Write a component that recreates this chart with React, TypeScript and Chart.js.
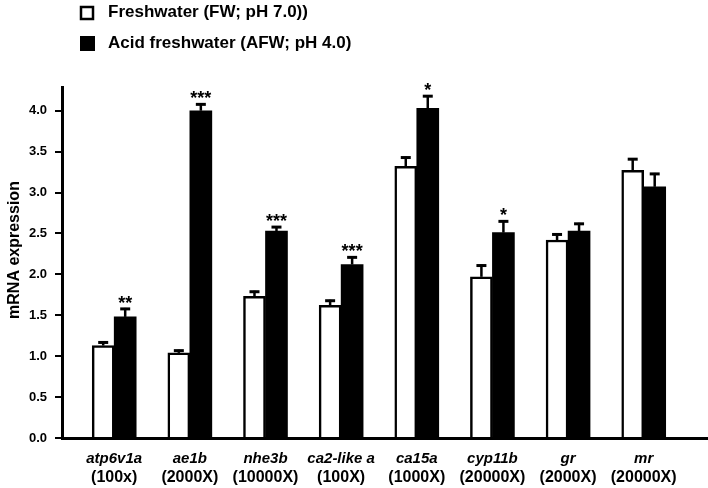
import React, { useEffect, useRef } from "react";
import { Chart, registerables } from "chart.js";

Chart.register(...registerables);

const categories = ["atp6v1a", "ae1b", "nhe3b", "ca2-like a", "ca15a", "cyp11b", "gr", "mr"];
const multipliers = ["(100x)", "(2000X)", "(10000X)", "(100X)", "(1000X)", "(20000X)", "(2000X)", "(20000X)"];
const seriesLabels = ["Freshwater (FW; pH 7.0))", "Acid freshwater (AFW; pH 4.0)"];
const fwValues = [1.13, 1.04, 1.73, 1.62, 3.32, 1.97, 2.42, 3.27];
const fwErrors = [0.05, 0.04, 0.07, 0.07, 0.12, 0.15, 0.08, 0.15];
const afwValues = [1.48, 4.0, 2.53, 2.12, 4.03, 2.51, 2.53, 3.07];
const afwErrors = [0.11, 0.09, 0.06, 0.1, 0.16, 0.15, 0.1, 0.17];
const significance = ["**", "***", "***", "***", "*", "*", "", ""];
const yTickValues = [0, 0.5, 1.0, 1.5, 2.0, 2.5, 3.0, 3.5, 4.0];
const yTitle = "mRNA expression";

const FONT = "'Liberation Sans', Arial, sans-serif";

const errorPlugin = {
  id: "errorAndLabels",
  afterDatasetsDraw(chart: any) {
    const ctx = chart.ctx;
    const yScale = chart.scales.y;
    const errs = [fwErrors, afwErrors];
    ctx.save();
    ctx.strokeStyle = "#000";
    ctx.fillStyle = "#000";
    chart.data.datasets.forEach((ds: any, di: number) => {
      const meta = chart.getDatasetMeta(di);
      meta.data.forEach((bar: any, i: number) => {
        const v = ds.data[i].y;
        const top = yScale.getPixelForValue(v + errs[di][i]);
        const base = yScale.getPixelForValue(v);
        const x = bar.x;
        ctx.lineWidth = 2.5;
        ctx.beginPath();
        ctx.moveTo(x, base);
        ctx.lineTo(x, top);
        ctx.stroke();
        ctx.lineWidth = 3;
        ctx.beginPath();
        ctx.moveTo(x - 5, top + 1);
        ctx.lineTo(x + 5, top + 1);
        ctx.stroke();
        if (di === 1 && significance[i]) {
          ctx.font = `bold 18px ${FONT}`;
          ctx.textAlign = "center";
          ctx.textBaseline = "alphabetic";
          ctx.fillText(significance[i], x, top + 1);
        }
      });
    });
    ctx.restore();
  },
  afterDraw(chart: any) {
    const ctx = chart.ctx;
    const xScale = chart.scales.x;
    const area = chart.chartArea;
    ctx.save();
    ctx.fillStyle = "#000";
    ctx.textAlign = "center";
    ctx.textBaseline = "middle";
    categories.forEach((c, i) => {
      const x = xScale.getPixelForValue(i);
      ctx.font = `italic bold 15px ${FONT}`;
      ctx.fillText(c, x, area.bottom + 21);
      ctx.font = `bold 16px ${FONT}`;
      ctx.fillText(multipliers[i], x, area.bottom + 40);
    });
    // y title
    ctx.save();
    ctx.translate(15, 250);
    ctx.rotate(-Math.PI / 2);
    ctx.font = `bold 16px ${FONT}`;
    ctx.fillText(yTitle, 0, 0);
    ctx.restore();
    // legend
    ctx.textAlign = "left";
    ctx.font = `bold 17px ${FONT}`;
    ctx.lineWidth = 2.5;
    ctx.strokeStyle = "#000";
    ctx.fillStyle = "#fff";
    ctx.fillRect(81, 7, 12, 12);
    ctx.strokeRect(81, 7, 12, 12);
    ctx.fillStyle = "#000";
    ctx.fillRect(80, 36, 15, 15);
    ctx.fillText(seriesLabels[0], 108, 12);
    ctx.fillText(seriesLabels[1], 108, 43);
    ctx.restore();
  },
};

export default function App() {
  const ref = useRef<HTMLCanvasElement>(null);
  useEffect(() => {
    if (!ref.current) return;
    const chart = new Chart(ref.current, {
      type: "bar",
      data: {
        datasets: [
          {
            label: seriesLabels[0],
            data: fwValues.map((v, i) => ({ x: i, y: v })),
            backgroundColor: "#fff",
            borderColor: "#000",
            borderWidth: 2.5,
            barThickness: 22,
          },
          {
            label: seriesLabels[1],
            data: afwValues.map((v, i) => ({ x: i, y: v })),
            backgroundColor: "#000",
            borderColor: "#000",
            borderWidth: 0,
            barThickness: 22,
          },
        ],
      } as any,
      options: {
        animation: false,
        responsive: false,
        layout: { padding: { top: 87, bottom: 42, left: 0, right: 0 } },
        plugins: { legend: { display: false }, tooltip: { enabled: false } },
        scales: {
          x: {
            type: "linear",
            offset: false,
            min: -0.69,
            max: 7.85,
            grid: { display: false },
            ticks: { display: false },
            border: { display: true, color: "#000", width: 3 },
          },
          y: {
            type: "linear",
            min: 0,
            max: 4.29,
            afterBuildTicks: (scale: any) => {
              scale.ticks = yTickValues.map((v) => ({ value: v }));
            },
            afterFit: (scale: any) => {
              scale.width = 62;
            },
            grid: { drawOnChartArea: false, drawTicks: true, tickLength: 7, lineWidth: 2, color: "#000" },
            border: { display: true, color: "#000", width: 3 },
            ticks: {
              padding: 8,
              color: "#000",
              font: { family: FONT, size: 13, weight: "bold" },
              callback: (v: any) => Number(v).toFixed(1),
            },
          },
        },
      } as any,
      plugins: [errorPlugin],
    });
    return () => chart.destroy();
  }, []);
  return (
    <div style={{ position: "fixed", left: 0, top: 0, width: 708, height: 488, background: "#fff" }}>
      <canvas ref={ref} width={708} height={488} style={{ display: "block" }} />
    </div>
  );
}
